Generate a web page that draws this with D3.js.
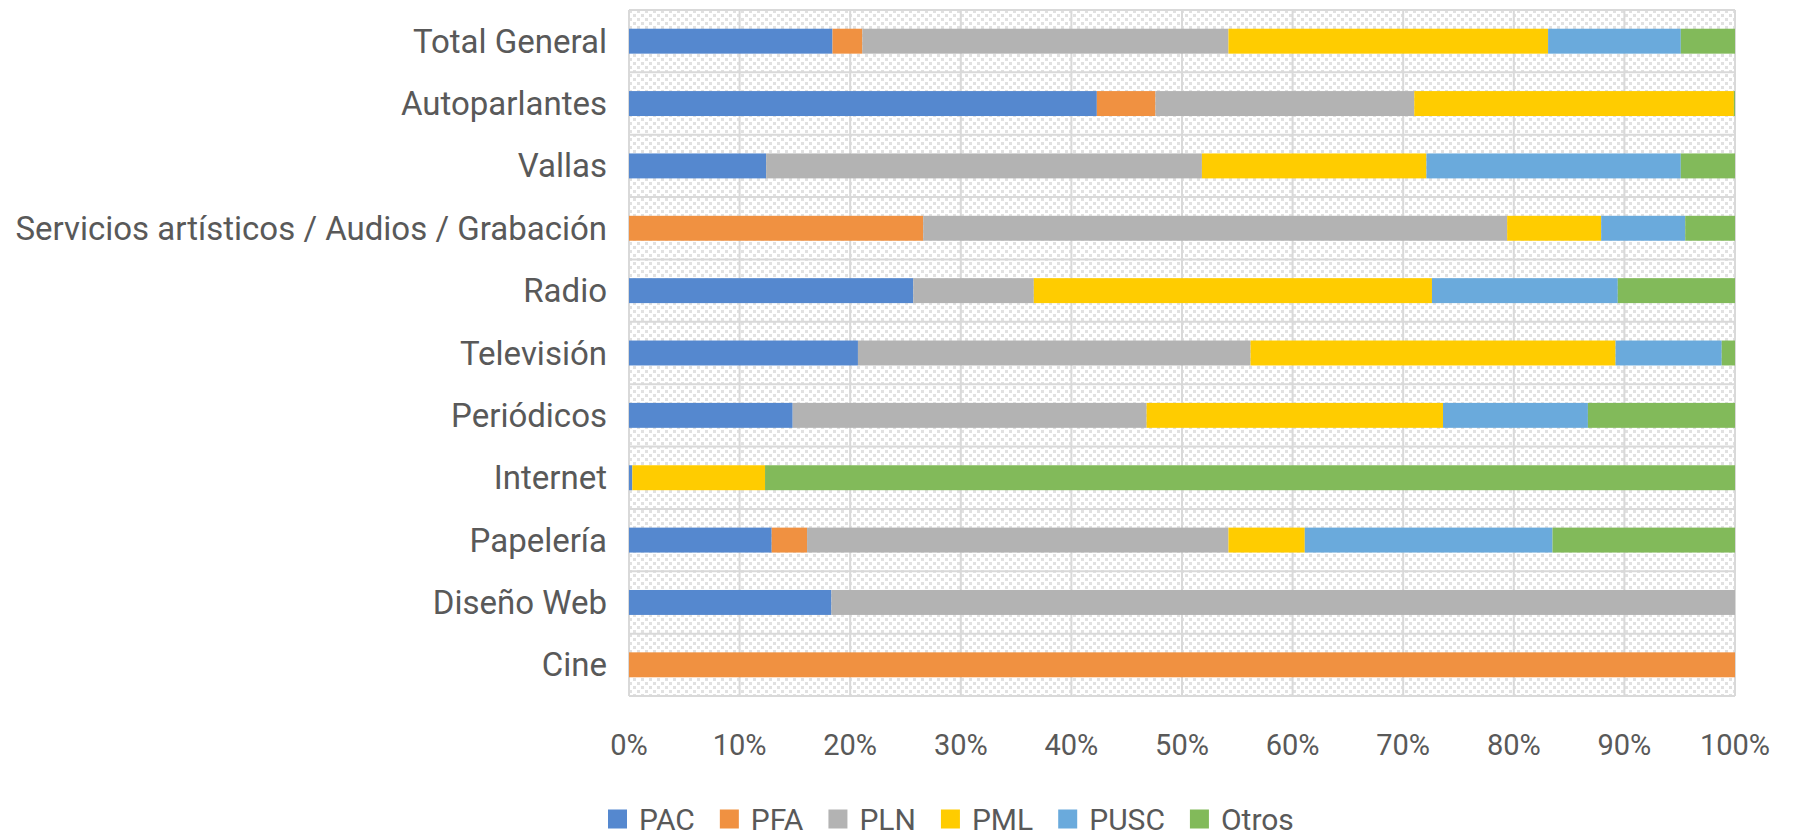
<!DOCTYPE html>
<html>
<head>
<meta charset="utf-8">
<script src="https://cdn.jsdelivr.net/npm/d3@7"></script>
<style>
  body { margin: 0; background: #fff; }
  svg text { font-family: Roboto, "DejaVu Sans Condensed", sans-serif; fill: #595959; }
</style>
</head>
<body>
<div id="grafico"></div>
<script>
// Categorías (de arriba hacia abajo)
const categorias = ["Total General", "Autoparlantes", "Vallas", "Servicios artísticos / Audios / Grabación",
  "Radio", "Televisión", "Periódicos", "Internet", "Papelería", "Diseño Web", "Cine"];

const partidos = ["PAC", "PFA", "PLN", "PML", "PUSC", "Otros"];
const colores = ["#5588CF", "#F09141", "#B3B3B3", "#FFCC00", "#6AAADC", "#82BA5A"];

// Porcentajes por partido, en el orden de las categorías
const PAC   = [18.4, 42.3, 12.4, 0,    25.7, 20.7, 14.8, 0.3,  12.9, 18.3, 0];
const PFA   = [2.7,  5.3,  0,    26.6, 0,    0,    0,    0,    3.2,  0,    100];
const PLN   = [33.1, 23.4, 39.4, 52.8, 10.9, 35.5, 32.0, 0,    38.1, 81.7, 0];
const PML   = [28.9, 28.9, 20.3, 8.5,  36.0, 33.0, 26.8, 12.0, 6.9,  0,    0];
const PUSC  = [12.0, 0,    23.0, 7.6,  16.8, 9.6,  13.1, 0,    22.4, 0,    0];
const Otros = [4.9,  0.1,  4.9,  4.5,  10.6, 1.2,  13.3, 87.7, 16.5, 0,    0];

const ticks = [0, 10, 20, 30, 40, 50, 60, 70, 80, 90, 100];

document.addEventListener("DOMContentLoaded", () => {
  const W = 1797, H = 836;
  const margin = { top: 10, right: 62, bottom: 140, left: 629 };
  const width = W - margin.left - margin.right;
  const height = H - margin.top - margin.bottom;

  const svg = d3.select("#grafico").append("svg")
    .attr("width", W).attr("height", H);

  // Patrón de puntos diagonales del fondo
  const defs = svg.append("defs");
  const pat = defs.append("pattern")
    .attr("id", "rayas")
    .attr("patternUnits", "userSpaceOnUse")
    .attr("width", 8).attr("height", 8);
  pat.append("rect").attr("width", 8).attr("height", 8).attr("fill", "#fff");
  [[0, 0], [4, 4]].forEach(([px, py]) => {
    pat.append("rect").attr("x", px).attr("y", py).attr("width", 3).attr("height", 3).attr("fill", "#e1e1e1");
  });

  const g = svg.append("g").attr("transform", `translate(${margin.left},${margin.top})`);

  const x = d3.scaleLinear().domain([0, 100]).range([0, width]);
  const y = d3.scaleBand().domain(categorias).range([0, height]).paddingInner(0.6).paddingOuter(0.3);

  // Fondo
  g.append("rect").attr("width", width).attr("height", height).attr("fill", "url(#rayas)");

  // Líneas de cuadrícula
  g.selectAll(".vgrid").data(ticks).enter().append("line")
    .attr("x1", d => x(d)).attr("x2", d => x(d))
    .attr("y1", 0).attr("y2", height)
    .attr("stroke", "#d9d9d9").attr("stroke-width", 2);

  const lineasH = categorias.map(c => y(c) - y.step() * 0.3).concat([height]);
  g.selectAll(".hgrid").data(lineasH).enter().append("line")
    .attr("x1", 0).attr("x2", width)
    .attr("y1", d => d).attr("y2", d => d)
    .attr("stroke", "#d9d9d9").attr("stroke-width", 2);

  // Datos apilados
  const series = [PAC, PFA, PLN, PML, PUSC, Otros];
  const filas = categorias.map((c, i) => {
    const o = { cat: c };
    partidos.forEach((p, j) => { o[p] = series[j][i]; });
    return o;
  });
  const stack = d3.stack().keys(partidos)(filas);

  g.selectAll(".serie").data(stack).enter().append("g")
    .attr("fill", (d, i) => colores[i])
    .selectAll("rect").data(d => d).enter().append("rect")
    .attr("x", d => x(d[0]))
    .attr("width", d => Math.max(0, x(Math.min(100, d[1])) - x(d[0])))
    .attr("y", d => y(d.data.cat))
    .attr("height", y.bandwidth());

  // Eje Y (etiquetas)
  g.selectAll(".cat").data(categorias).enter().append("text")
    .attr("x", -22)
    .attr("y", d => y(d) + y.bandwidth() / 2)
    .attr("dy", "0.35em")
    .attr("text-anchor", "end")
    .style("font-size", "33px")
    .text(d => d);

  // Eje X (etiquetas)
  g.selectAll(".tick").data(ticks).enter().append("text")
    .attr("x", d => x(d))
    .attr("y", height + 49)
    .attr("dy", "0.35em")
    .attr("text-anchor", "middle")
    .style("font-size", "29px")
    .text(d => d + "%");

  // Leyenda
  const leyenda = svg.append("g").attr("transform", `translate(608,${H - 17})`);
  let lx = 0;
  partidos.forEach((p, i) => {
    const it = leyenda.append("g").attr("transform", `translate(${lx},0)`);
    it.append("rect").attr("x", 0).attr("y", -9.5).attr("width", 19).attr("height", 19).attr("fill", colores[i]);
    const t = it.append("text").attr("x", 31).attr("dy", "0.35em").style("font-size", "30px").text(p);
    lx += 31 + t.node().getComputedTextLength() + 25;
  });
});
</script>
</body>
</html>
